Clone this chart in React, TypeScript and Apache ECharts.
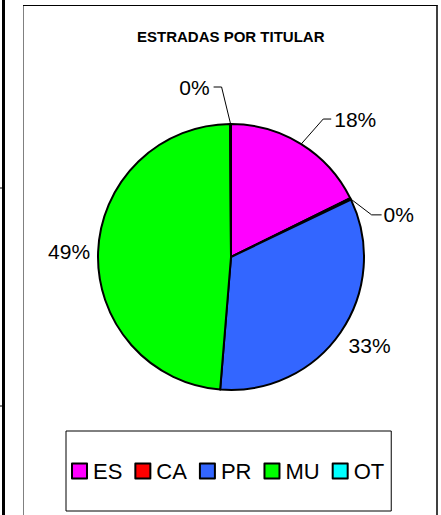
import React, { useEffect, useRef } from "react";
import * as echarts from "echarts";

const categories = ["ES", "CA", "PR", "MU", "OT"];
const values = [17.7, 0.2, 33.4, 48.6, 0.1];
const colors = ["#FF00FF", "#FF0000", "#3366FF", "#00FF00", "#00FFFF"];
const titleText = "ESTRADAS POR TITULAR";

const FONT = "'Liberation Sans', Arial, sans-serif";

export default function App() {
  const ref = useRef<HTMLDivElement>(null);
  useEffect(() => {
    if (!ref.current) return;
    const chart = echarts.init(ref.current, null, { renderer: "svg" });
    const noLine = { show: false, length: 0, length2: 0 };
    const lineCfg: Record<string, any> = {
      ES: { length: 30, length2: 11 },
      CA: { length: 20, length2: 10 },
      PR: noLine,
      MU: noLine,
      OT: { length: 38, length2: 18 },
    };
    const data = categories.map((name, i) => ({
      name,
      value: values[i],
      itemStyle: { color: colors[i] },
      labelLine: lineCfg[name],
    }));
    const bend = (a: number[], ddx: number, ddy: number, h: number, gap: number, align: string) => {
      const b = [a[0] + ddx, a[1] + ddy];
      const c = [b[0] + h, b[1]];
      return {
        x: c[0] + (h < 0 ? -gap : gap),
        y: c[1],
        align,
        verticalAlign: "middle",
        labelLinePoints: [a, b, c],
      };
    };
    chart.setOption({
      animation: false,
      backgroundColor: "#fff",
      title: {
        text: titleText,
        left: 137,
        top: 29,
        textStyle: { fontFamily: FONT, fontSize: 15, fontWeight: "bold", color: "#000" },
        padding: 0,
      },
      legend: {
        data: categories,
        left: 66,
        top: 431,
        orient: "horizontal",
        icon: "rect",
        itemWidth: 15,
        itemHeight: 15,
        itemGap: 12,
        padding: [29, 7, 29, 5],
        borderColor: "#000",
        borderWidth: 1,
        textStyle: { fontFamily: FONT, fontSize: 22, color: "#000", padding: [0, 0, 0, 1] },
        itemStyle: { borderColor: "#000", borderWidth: 2 },
      },
      graphic: [
        { type: "line", shape: { x1: 3.5, y1: 0, x2: 3.5, y2: 515 }, style: { stroke: "#000", lineWidth: 3 } },
        { type: "line", shape: { x1: 0, y1: 188, x2: 3, y2: 188 }, style: { stroke: "#000", lineWidth: 1 } },
        { type: "line", shape: { x1: 0, y1: 406, x2: 3, y2: 406 }, style: { stroke: "#000", lineWidth: 1 } },
        { type: "line", shape: { x1: 23.5, y1: 5, x2: 23.5, y2: 515 }, style: { stroke: "#808080", lineWidth: 1 } },
        { type: "line", shape: { x1: 23, y1: 5.5, x2: 437.5, y2: 5.5 }, style: { stroke: "#000", lineWidth: 1 } },
        { type: "line", shape: { x1: 437, y1: 5, x2: 437, y2: 515 }, style: { stroke: "#000", lineWidth: 1.5 } },
      ],
      series: [
        {
          type: "pie",
          center: [231, 257],
          radius: 133,
          startAngle: 90,
          clockwise: true,
          percentPrecision: 0,
          avoidLabelOverlap: false,
          data,
          itemStyle: { borderColor: "#000", borderWidth: 2 },
          label: {
            show: true,
            position: "outside",
            formatter: "{d}%",
            fontFamily: FONT,
            fontSize: 21,
            color: "#000",
          },
          labelLine: {
            show: true,
            length: 30,
            length2: 8,
            lineStyle: { color: "#000", width: 1 },
          },
          labelLayout: (p: any) => {
            const pts = p.labelLinePoints;
            if (p.dataIndex === 0 && pts) return bend(pts[0], 22, -25, 8, 3, "left");
            if (p.dataIndex === 1 && pts) return bend(pts[0], 21, 16, 10, 2, "left");
            if (p.dataIndex === 4 && pts) return bend(pts[0], -9, -37, -8, 4, "right");
            if (p.dataIndex === 2) return { dx: 3, dy: 13 };
            if (p.dataIndex === 3) return { dx: -3, dy: 0 };
            return {};
          },
        },
      ],
    });
    return () => chart.dispose();
  }, []);
  return (
    <div
      ref={ref}
      style={{ position: "fixed", left: 0, top: 0, width: 441, height: 515 }}
    />
  );
}
